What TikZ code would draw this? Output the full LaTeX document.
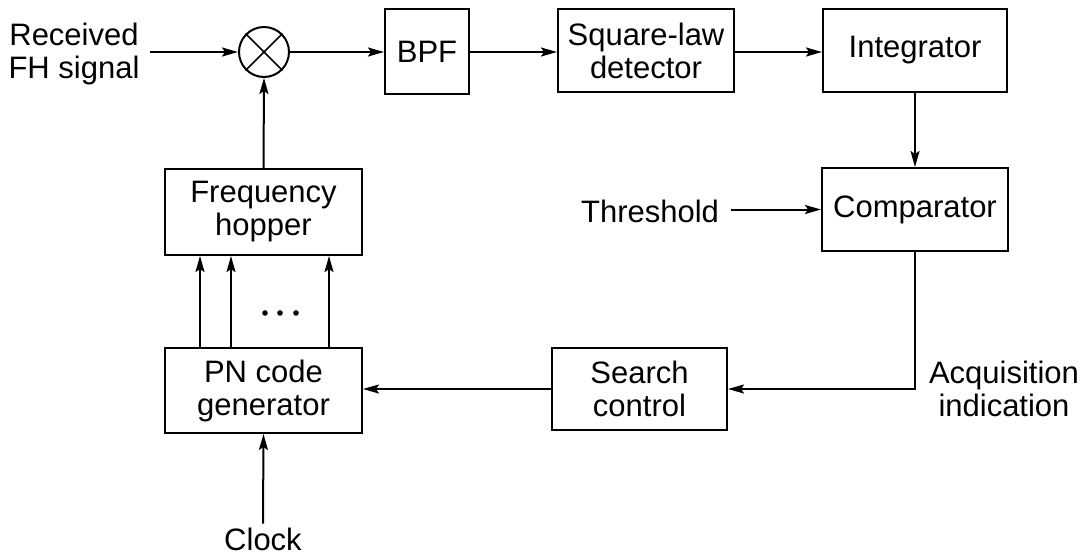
\documentclass[tikz,border=0pt]{standalone}
\usepackage{fontspec}
\setmainfont{Liberation Sans}
\usetikzlibrary{arrows.meta}
\begin{document}
\begin{tikzpicture}[x=1pt,y=-1pt, line width=2pt,
  every node/.style={font=\fontsize{31}{33}\selectfont, inner sep=0pt},
  blockbox/.style={draw, rectangle, align=center},
  conn/.style={-{Stealth[length=16pt,width=9pt,inset=3pt]}}]
\useasboundingbox (0,0) rectangle (1087,558);

% blocks of the receiver chain
\node[align=center] (recv) at (74,54) {Received\\FH signal};
\node[draw, circle, minimum size=50pt] (mix) at (264,52) {};
\draw[line width=1.5pt] (mix.north west) -- (mix.south east)
                        (mix.north east) -- (mix.south west);
\node[blockbox, minimum width=84pt, minimum height=85pt] (bpf) at (427,51.5) {BPF};
\node[blockbox, minimum width=176pt, minimum height=83pt] (sq) at (646,50.5) {Square-law\\detector};
\node[blockbox, minimum width=184pt, minimum height=83pt] (integ) at (915,50.5) {Integrator};
\node[blockbox, minimum width=186pt, minimum height=83pt] (comp) at (915,209.5) {Comparator};
\node (thr) at (650,211) {Threshold};
\node[blockbox, minimum width=175pt, minimum height=82pt] (search) at (639.5,389) {Search\\control};
\node[blockbox, minimum width=197pt, minimum height=85pt] (pn) at (263.5,390.5) {PN code\\generator};
\node[blockbox, minimum width=197pt, minimum height=86pt] (hop) at (263.5,212) {Frequency\\hopper};
\node (clk) at (263,539) {Clock};
\node[align=center] (acq) at (1004,389) {Acquisition\\indication};

% signal path
\draw[conn] ([xshift=10pt]recv.east |- mix.west) -- (mix.west);
\draw[conn] (mix.east) -- (mix.east -| bpf.west);
\draw[conn] (bpf.east |- mix.east) -- (mix.east -| sq.west);
\draw[conn] (sq.east |- mix.east) -- (mix.east -| integ.west);
\draw[conn] (integ.south) -- (comp.north);
\draw[conn] ([xshift=11pt]thr.east |- comp.west) -- (comp.west);
\coordinate (turn) at (comp.south |- search.east);
\draw[conn] (comp.south) -- (turn) -- (search.east);
\draw[conn] (search.west) -- (search.west -| pn.east);
\draw[conn] (hop.north) -- (mix.south);
\draw[conn] ([yshift=3pt]clk.north) -- (pn.south);

% parallel code lines into the hopper
\foreach \x/\n in {200/a,231/b,329/c}{
  \coordinate (col\n) at (\x,300);
  \draw[conn] (pn.north -| col\n) -- (hop.south -| col\n);
}
\foreach \x in {265,280,296}
  \fill (\x,313) circle (2.8pt);
\end{tikzpicture}
\end{document}
